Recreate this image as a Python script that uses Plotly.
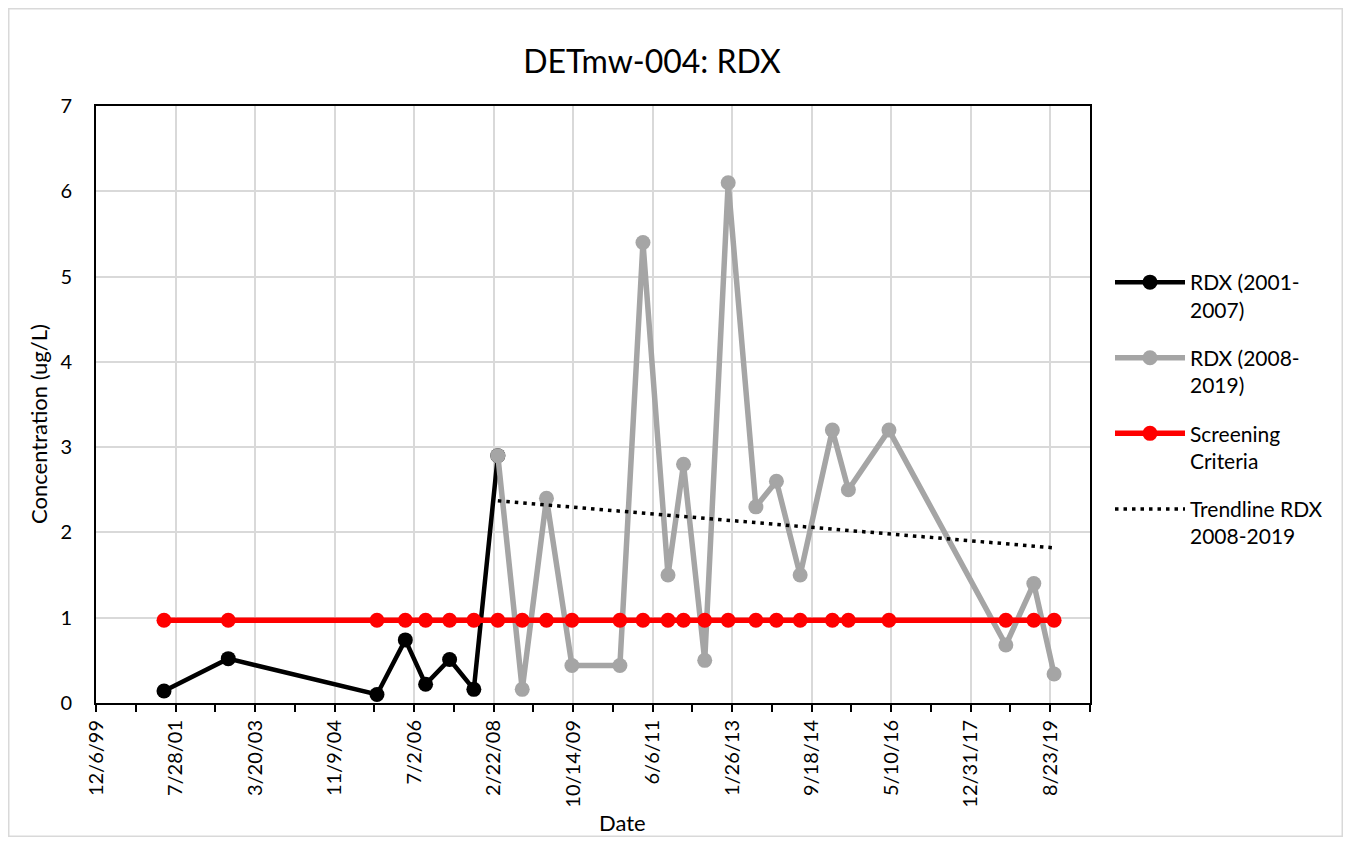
import numpy as np
import pandas as pd
import plotly.graph_objects as go

# ---------------- data ----------------
black_dates = ["2001-05-02", "2002-08-30", "2005-09-25", "2006-04-27",
               "2006-09-27", "2007-03-27", "2007-09-26", "2008-03-25"]
black_vals = [0.14, 0.52, 0.10, 0.74, 0.22, 0.51, 0.16, 2.9]

gray_dates = ["2008-03-25", "2008-09-25", "2009-03-27", "2009-10-05", "2010-10-02",
              "2011-03-25", "2011-09-30", "2012-01-25", "2012-07-03", "2012-12-27",
              "2013-07-24", "2013-12-26", "2014-06-23", "2015-02-21", "2015-06-22",
              "2016-04-23", "2018-09-22", "2019-04-21", "2019-09-21"]
gray_vals = [2.9, 0.16, 2.4, 0.44, 0.44, 5.4, 1.5, 2.8, 0.5, 6.1,
             2.3, 2.6, 1.5, 3.2, 2.5, 3.2, 0.68, 1.4, 0.34]

screening_value = 0.97
screening_dates = sorted(set(black_dates) | set(gray_dates))
screening_vals = [screening_value] * len(screening_dates)

series_names = ["RDX (2001-<br>2007)", "RDX (2008-<br>2019)",
                "Screening<br>Criteria", "Trendline RDX<br>2008-2019"]

x_start = "1999-12-06"
x_end = "2020-06-18"
major_days = 600
minor_days = 300

# trendline (linear fit of 2008-2019 data)
gd = pd.to_datetime(gray_dates)
days = np.array((gd - gd[0]).days, dtype=float)
coef = np.polyfit(days, np.array(gray_vals), 1)
trend_x = [gray_dates[0], gray_dates[-1]]
trend_y = list(np.polyval(coef, [days[0], days[-1]]))

# ---------------- figure ----------------
FONT = "Lato"
OFF = 8  # page body margin
W, H = 1351 - 2 * OFF, 845 - 2 * OFF
L, R, T, B = 96 - OFF, 1090 - OFF, 106 - OFF, 703 - OFF

def px_x(p):
    return (p - OFF - L) / (R - L)

def px_y(p):
    return (B - (p - OFF)) / (B - T)

fig = go.Figure()
fig.add_trace(go.Scatter(x=black_dates, y=black_vals, mode="lines+markers",
                         name=series_names[0], legendgroup="a",
                         line=dict(color="#000000", width=4.5),
                         marker=dict(color="#000000", size=15)))
fig.add_trace(go.Scatter(x=gray_dates, y=gray_vals, mode="lines+markers",
                         name=series_names[1], legendgroup="b",
                         line=dict(color="#a5a5a5", width=5.5),
                         marker=dict(color="#a5a5a5", size=15)))
fig.add_trace(go.Scatter(x=screening_dates, y=screening_vals, mode="lines+markers",
                         name=series_names[2], legendgroup="c",
                         line=dict(color="#ff0000", width=5.5),
                         marker=dict(color="#ff0000", size=15)))
fig.add_trace(go.Scatter(x=trend_x, y=trend_y, mode="lines",
                         name=series_names[3], legendgroup="d",
                         line=dict(color="#000000", width=3.5, dash="3.5px,5px")))

fig.update_layout(
    width=W, height=H,
    paper_bgcolor="white", plot_bgcolor="white",
    margin=dict(l=L, r=W - R, t=T, b=H - B, autoexpand=False),
    font=dict(family=FONT, color="#000000", size=20),
    title=dict(text="DETmw-004: RDX", x=(652 - OFF) / W, xref="container", xanchor="center",
               y=1 - (62 - OFF) / H, yref="container", yanchor="middle",
               font=dict(family=FONT, size=32, color="#000000")),
    legend=dict(x=px_x(1110), y=px_y(262), xanchor="left", yanchor="top",
                font=dict(family=FONT, size=21, color="#000000"),
                traceorder="grouped", tracegroupgap=18, valign="top",
                itemwidth=70, bgcolor="rgba(0,0,0,0)"),
    showlegend=True,
)

fig.update_xaxes(
    type="date", range=[x_start, x_end],
    tick0=x_start, dtick=major_days * 86400000,
    tickformat="%-m/%-d/%y", tickangle=-90,
    tickfont=dict(family=FONT, size=20, color="#000000"),
    ticks="outside", ticklen=7, tickwidth=1.5, tickcolor="#000000",
    showgrid=True, gridcolor="#d9d9d9", gridwidth=1.5,
    showline=True, linecolor="#000000", linewidth=2, mirror=True,
    minor=dict(dtick=minor_days * 86400000, tick0=x_start, ticks="outside",
               ticklen=7, tickwidth=1.5, tickcolor="#000000", showgrid=False),
    zeroline=False,
)
fig.update_yaxes(
    range=[0, 7], dtick=1, tick0=0,
    tickfont=dict(family=FONT, size=20, color="#000000"),
    ticks="", ticklabelstandoff=18,
    showgrid=True, gridcolor="#d9d9d9", gridwidth=1.5,
    showline=True, linecolor="#000000", linewidth=2, mirror=True,
    zeroline=False,
)

fig.add_annotation(text="Concentration (ug/L)", xref="paper", yref="paper",
                   x=px_x(38), y=px_y(424), textangle=-90, showarrow=False,
                   xanchor="center", yanchor="middle",
                   font=dict(family=FONT, size=22, color="#000000"))
fig.add_annotation(text="Date", xref="paper", yref="paper",
                   x=px_x(622), y=px_y(822), showarrow=False,
                   xanchor="center", yanchor="middle", borderpad=0,
                   font=dict(family=FONT, size=22, color="#000000"))

fig.add_shape(type="rect", xref="paper", yref="paper",
              x0=px_x(OFF + 0.75), x1=px_x(1351 - OFF - 0.75),
              y0=px_y(845 - OFF - 0.75), y1=px_y(OFF + 0.75),
              line=dict(color="#d9d9d9", width=1.5), fillcolor="rgba(0,0,0,0)",
              layer="below")

fig.write_html("out.html")
